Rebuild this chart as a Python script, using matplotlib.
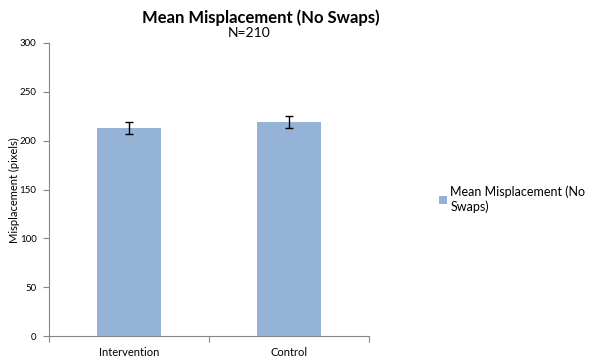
import numpy as np
import matplotlib
matplotlib.use("Agg")
import matplotlib.pyplot as plt

categories = ["Intervention", "Control"]
means = [213, 219]
errors = [6, 6.5]
series_label = "Mean Misplacement (No\nSwaps)"
yticks = [0, 50, 100, 150, 200, 250, 300]

plt.rcParams['font.family'] = ['Lato', 'DejaVu Sans']

fig = plt.figure(figsize=(5.93, 3.64), dpi=100)
ax = fig.add_axes([49/593, 1 - 336/364, 320/593, 293/364])

ind = np.arange(len(categories))
bars = ax.bar(ind, means, 0.4, yerr=errors, color='#95B3D7',
              error_kw=dict(ecolor='black', elinewidth=1, capsize=3, capthick=1),
              label=series_label)

ax.set_xlim(-0.5, len(categories) - 0.5)
ax.set_ylim(0, 300)
ax.set_yticks(yticks)
ax.tick_params(axis='y', labelsize=7, length=4, width=0.8, color='#868686', pad=5)
ax.set_xticks(ind)
ax.set_xticklabels(categories)
ax.tick_params(axis='x', which='major', length=0, labelsize=8, pad=8)
ax.set_xticks([-0.5, 0.5, 1.5], minor=True)
ax.tick_params(axis='x', which='minor', length=4, width=0.8, color='#868686')

for s in ['top', 'right']:
    ax.spines[s].set_visible(False)
for s in ['left', 'bottom']:
    ax.spines[s].set_color('#868686')
    ax.spines[s].set_linewidth(0.8)

# y label placed by hand so it stays inside the figure
fig.text(14/593, 1 - 190/364, 'Misplacement (pixels)', rotation=90,
         ha='center', va='center', fontsize=8)

fig.text(261/593, 1 - 18/364, 'Mean Misplacement (No Swaps)', ha='center', va='center',
         fontsize=12, fontweight='bold')
fig.text(249/593, 1 - 33/364, 'N=210', ha='center', va='center', fontsize=10)

ax.legend(loc='center left', bbox_to_anchor=(428/593, 1 - 199/364),
          bbox_transform=fig.transFigure, frameon=False, fontsize=9,
          handlelength=0.6, handleheight=0.6, handletextpad=0.3)

fig.savefig('out.png', dpi=100)
